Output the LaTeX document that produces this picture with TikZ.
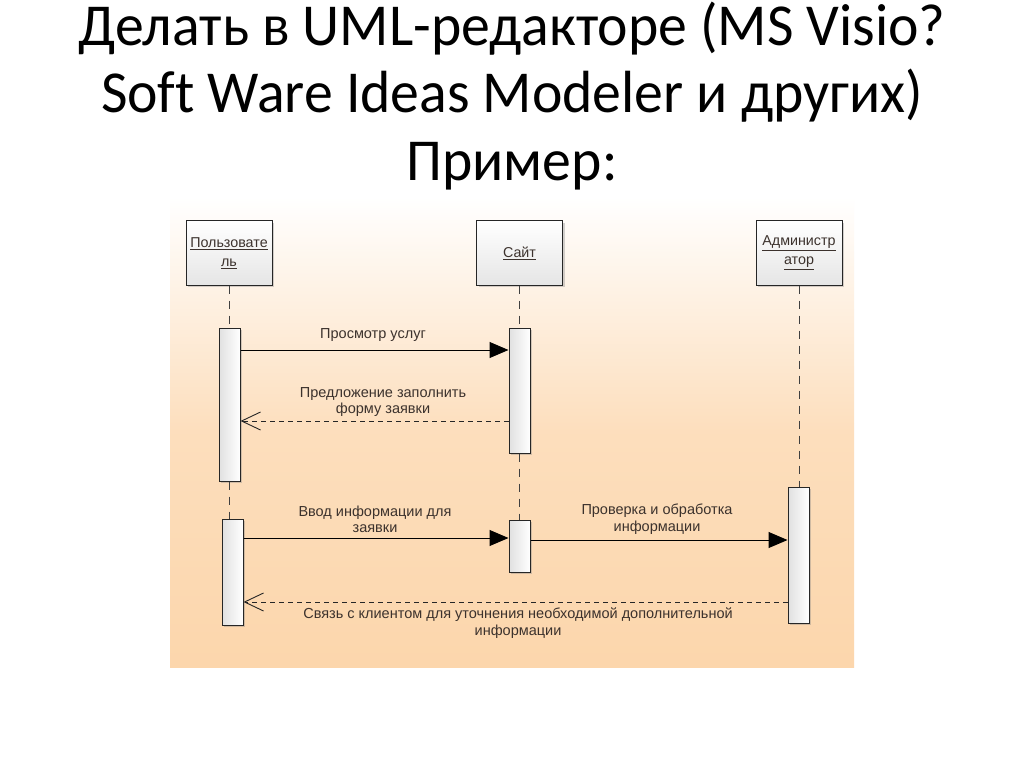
\documentclass[tikz,border=0pt]{standalone}
\usepackage{fontspec}
\setmainfont{Liberation Sans}
\newfontfamily\titlefont[FakeStretch=0.97,Ligatures=NoCommon]{Carlito}
\usetikzlibrary{arrows.meta,shadows}
\definecolor{peach}{RGB}{252,214,172}
\definecolor{txt}{RGB}{60,50,45}
\begin{document}
\begin{tikzpicture}[x=1pt,y=-1pt,
  titletext/.style={anchor=base,inner sep=0pt,font=\titlefont\fontsize{59.5}{68}\selectfont},
  headbox/.style={draw=black!85,line width=1pt,minimum width=86pt,minimum height=64pt,inner sep=1pt,
    top color=white,bottom color=black!10,align=center,text=txt,
    font=\fontsize{14.3}{19}\selectfont,
    drop shadow={opacity=0.35,shadow xshift=2pt,shadow yshift=-2pt}},
  actbar/.style={draw=black!85,line width=1pt,minimum width=21pt,inner sep=0pt,
    left color=black!12,right color=white,
    drop shadow={opacity=0.35,shadow xshift=2pt,shadow yshift=-2pt}},
  msglabel/.style={align=center,text=txt,inner sep=0pt,font=\fontsize{14.5}{16.5}\selectfont},
  lifeline/.style={draw=black!75,line width=0.9pt,dash pattern=on 8pt off 7pt},
  syncmsg/.style={draw=black,line width=1pt,-{Triangle[length=19pt,width=16pt]}},
  replymsg/.style={draw=black!85,line width=0.9pt,dash pattern=on 5pt off 4pt,
    -{Straight Barb[length=19pt,width=18pt,line width=0.9pt]}}
]
\useasboundingbox (0,0) rectangle (1024,767);
\fill[white] (0,0) rectangle (1024,767);
% background
\shade[top color=white,bottom color=peach,middle color=peach!80] (170,197) rectangle (854,667);
% title
\node[titletext] (t1) at (512,46) {Делать в UML-редакторе (MS Visio?};
\node[titletext] (t2) at (512,113) {Sof\kern0pt t Ware Ideas Modeler и других)};
\node[titletext] (t3) at (512,181) {Пример:};
% heads
\node[headbox] (hu) at (229,253) {\underline{Пользовате}\\\underline{ль}};
\node[headbox] (hs) at (519.5,253) {\underline{Сайт}};
\node[headbox] (ha) at (799,253) {\underline{Администр}\\\underline{атор}};
% activation bars
\node[actbar,minimum height=153pt] (u1) at (229.5,404.5) {};
\node[actbar,minimum height=125pt] (s1) at (519.5,390.5) {};
\node[actbar,minimum height=106pt] (u2) at (232.5,572) {};
\node[actbar,minimum height=52pt] (s2) at (519.5,546) {};
\node[actbar,minimum height=136pt] (a1) at (798.5,555) {};
% lifelines
\draw[lifeline] (hu.south) -- (hu.south |- u1.north);
\draw[lifeline] (u1.south) -- (u1.south |- u2.north);
\draw[lifeline] (hs.south) -- (s1.north);
\draw[lifeline] (s1.south) -- (s2.north);
\draw[lifeline] (ha.south) -- (ha.south |- a1.north);
% messages
\draw[syncmsg] (u1.east |- 0,350) -- (s1.west |- 0,350);
\node[msglabel] (l1) at (373,335) {Просмотр услуг};
\draw[replymsg] (s1.west |- 0,421) -- (u1.east |- 0,421);
\node[msglabel] (l2) at (383,402) {Предложение заполнить\\форму заявки};
\draw[syncmsg] (u2.east |- 0,538) -- (s2.west |- 0,538);
\node[msglabel] (l3) at (375,519.5) {Ввод информации для\\заявки};
\draw[syncmsg] (s2.east |- 0,540) -- (a1.west |- 0,540);
\node[msglabel] (l4) at (657,519) {Проверка и обработка\\информации};
\draw[replymsg] (a1.west |- 0,602) -- (u2.east |- 0,602);
\node[msglabel] (l5) at (518,623) {Связь с клиентом для уточнения необходимой дополнительной\\информации};
\end{tikzpicture}
\end{document}
